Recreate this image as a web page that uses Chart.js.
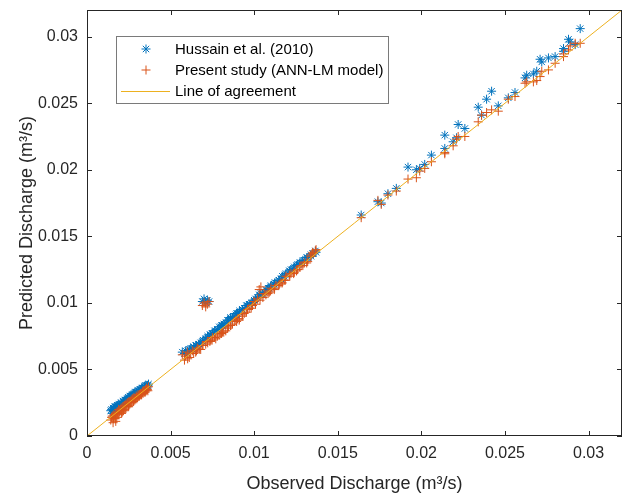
<!DOCTYPE html>
<html>
<head>
<meta charset="utf-8">
<script src="https://cdn.jsdelivr.net/npm/chart.js"></script>
<style>
  html, body { margin: 0; padding: 0; background: #fff; }
</style>
</head>
<body>
<canvas id="chart" width="623" height="495"></canvas>
<script>
// observed discharge (m3/s), same for both models
var observed = [
  0.00142,0.00151,0.00156,0.00161,0.00169,0.00173,0.00181,0.00187,0.00190,0.00198,
  0.00204,0.00211,0.00215,0.00223,0.00229,0.00233,0.00241,0.00247,0.00251,0.00259,
  0.00264,0.00271,0.00277,0.00281,0.00289,0.00294,0.00301,0.00305,0.00313,0.00319,
  0.00324,0.00331,0.00337,0.00345,0.00351,0.00356,0.00364,
  0.00147,0.00158,0.00166,0.00178,0.00184,0.00195,0.00207,0.00218,0.00226,0.00238,
  0.00249,0.00256,0.00268,0.00279,0.00286,0.00298,0.00309,0.00316,0.00327,0.00335,
  0.00348,0.00354,0.00361,0.00368,0.00172,
  0.0069,0.0070,0.0071,0.0072,0.0073,
  0.0057,0.0059,0.0060,0.0062,0.0063,0.0065,0.0066,0.0068,0.0069,0.0071,
  0.0072,0.0074,0.0075,0.0077,0.0078,0.0080,0.0081,0.0083,0.0084,0.0086,
  0.0087,0.0089,0.0090,0.0091,0.0093,0.0094,0.0096,0.0097,0.0099,0.0100,
  0.0102,0.0103,0.0104,0.0106,0.0107,0.0109,0.0110,0.0112,0.0113,0.0115,
  0.0116,0.0118,0.0119,0.0121,0.0122,0.0124,0.0126,0.0128,0.0130,0.0132,
  0.0134,0.0135,0.0137,
  0.00583,0.00612,0.00638,0.00671,0.00694,0.00722,0.00748,0.00763,0.00791,0.00818,
  0.00846,0.00858,0.00881,0.00912,0.00928,0.00953,0.00982,0.01008,0.01035,0.01052,
  0.01083,0.01098,0.01122,0.01147,0.01168,0.01186,0.01213,0.01236,0.01253,0.01272,
  0.01291,0.01314,0.01338,0.01352,0.01366,0.00602,0.00655,0.00735,0.00805,0.00895,
  0.0164,0.0174,0.0176,0.0180,0.0185,0.0192,0.0197,0.0199,0.0202,0.0206,
  0.0214,0.0214,0.0219,0.0221,0.0222,0.0226,0.0234,0.0236,0.0239,0.0242,
  0.0246,0.0252,0.0256,0.0262,0.0263,0.0267,0.0269,0.0271,0.0272,0.0276,
  0.0280,0.0285,0.0285,0.0288,0.0289,0.0292,0.0295
];
// Hussain et al. (2010) predictions
var hussainPred = [
  0.0019,0.0017,0.0021,0.0019,0.0020,0.0021,0.0023,0.0021,0.0024,0.0022,
  0.0025,0.0024,0.0026,0.0025,0.0027,0.0026,0.0028,0.0029,0.0028,0.0030,
  0.0029,0.0031,0.0030,0.0032,0.0031,0.0033,0.0032,0.0034,0.0033,0.0035,
  0.0034,0.0036,0.0035,0.0037,0.0036,0.0037,0.0038,
  0.0020,0.0020,0.0022,0.0022,0.0023,0.0023,0.0024,0.0026,0.0027,0.0027,
  0.0029,0.0030,0.0030,0.0031,0.0033,0.0033,0.0034,0.0035,0.0036,0.0036,
  0.0038,0.0038,0.0038,0.0039,0.0022,
  0.0101,0.0103,0.0100,0.0102,0.0101,
  0.0063,0.0064,0.0062,0.0066,0.0065,0.0068,0.0067,0.0070,0.0071,0.0073,
  0.0074,0.0076,0.0077,0.0079,0.0080,0.0082,0.0083,0.0085,0.0087,0.0088,
  0.0089,0.0091,0.0092,0.0093,0.0095,0.0096,0.0098,0.0099,0.0100,0.0102,
  0.0104,0.0106,0.0107,0.0108,0.0110,0.0111,0.0113,0.0114,0.0115,0.0117,
  0.0118,0.0120,0.0122,0.0124,0.0125,0.0127,0.0129,0.0130,0.0132,0.0134,
  0.0135,0.0137,0.0138,
  0.0062,0.0065,0.0067,0.0069,0.0072,0.0075,0.0077,0.0079,0.0082,0.0084,
  0.0087,0.0089,0.0090,0.0094,0.0095,0.0098,0.0100,0.0103,0.0106,0.0107,
  0.0111,0.0112,0.0115,0.0117,0.0120,0.0121,0.0124,0.0126,0.0128,0.0130,
  0.0132,0.0134,0.0136,0.0137,0.0139,0.0064,0.0068,0.0076,0.0083,0.0092,
  0.0166,0.0176,0.0175,0.0182,0.0186,0.0202,0.0200,0.0201,0.0204,0.0211,
  0.0226,0.0216,0.0221,0.0224,0.0234,0.0231,0.0247,0.0241,0.0253,0.0259,
  0.0248,0.0254,0.0258,0.0269,0.0271,0.0272,0.0274,0.0283,0.0281,0.0284,
  0.0285,0.0291,0.0289,0.0298,0.0296,0.0294,0.0306
];
// present study (ANN-LM model) predictions
var annPred = [
  0.0012,0.0015,0.0010,0.0016,0.0013,0.0017,0.0018,0.0016,0.0020,0.0019,
  0.0021,0.0018,0.0022,0.0023,0.0021,0.0024,0.0025,0.0023,0.0026,0.0025,
  0.0027,0.0028,0.0026,0.0029,0.0028,0.0030,0.0029,0.0031,0.0030,0.0032,
  0.0031,0.0033,0.0034,0.0033,0.0035,0.0036,0.0034,
  0.0014,0.0013,0.0015,0.0014,0.0017,0.0018,0.0017,0.0019,0.0020,0.0022,
  0.0022,0.0024,0.0025,0.0026,0.0027,0.0028,0.0030,0.0031,0.0031,0.0032,
  0.0033,0.0034,0.0035,0.0037,0.0011,
  0.0098,0.0100,0.0097,0.0099,0.0101,
  0.0061,0.0060,0.0063,0.0062,0.0064,0.0063,0.0066,0.0065,0.0068,0.0069,
  0.0071,0.0072,0.0074,0.0073,0.0075,0.0077,0.0078,0.0079,0.0081,0.0083,
  0.0084,0.0087,0.0088,0.0087,0.0091,0.0092,0.0095,0.0096,0.0098,0.0101,
  0.0103,0.0110,0.0112,0.0107,0.0106,0.0108,0.0111,0.0110,0.0113,0.0114,
  0.0115,0.0117,0.0120,0.0121,0.0122,0.0123,0.0125,0.0128,0.0130,0.0131,
  0.0136,0.0138,0.0140,
  0.0057,0.0059,0.0062,0.0065,0.0068,0.0070,0.0072,0.0074,0.0076,0.0078,
  0.0082,0.0083,0.0086,0.0088,0.0090,0.0093,0.0096,0.0099,0.0102,0.0104,
  0.0107,0.0109,0.0111,0.0113,0.0115,0.0117,0.0120,0.0122,0.0124,0.0127,
  0.0128,0.0130,0.0135,0.0137,0.0139,0.0058,0.0064,0.0071,0.0077,0.0086,
  0.0164,0.0177,0.0174,0.0181,0.0184,0.0193,0.0194,0.0199,0.0201,0.0206,
  0.0213,0.0212,0.0218,0.0223,0.0225,0.0225,0.0236,0.0241,0.0243,0.0245,
  0.0244,0.0253,0.0255,0.0265,0.0266,0.0266,0.0267,0.0270,0.0274,0.0275,
  0.0280,0.0285,0.0287,0.0290,0.0293,0.0295,0.0295
];
var agreement = [0, 0.032];
var xTicks = [0, 0.005, 0.01, 0.015, 0.02, 0.025, 0.03];
var yTicks = [0, 0.005, 0.01, 0.015, 0.02, 0.025, 0.03];
var seriesNames = ['Hussain et al. (2010)', 'Present study (ANN-LM model)', 'Line of agreement'];

var BLUE = '#0072BD', ORANGE = '#D95319', YELLOW = '#EDB120', AXIS = '#262626';
var FONT = 'Liberation Sans, Arial, Helvetica, sans-serif';

function pairs(xs, ys) {
  return xs.map(function (x, i) { return { x: x, y: ys[i] }; });
}

function drawStar(ctx, x, y, r) {
  var d = r * Math.SQRT1_2;
  ctx.beginPath();
  ctx.moveTo(x - r, y); ctx.lineTo(x + r, y);
  ctx.moveTo(x, y - r); ctx.lineTo(x, y + r);
  ctx.moveTo(x - d, y - d); ctx.lineTo(x + d, y + d);
  ctx.moveTo(x - d, y + d); ctx.lineTo(x + d, y - d);
  ctx.stroke();
}
function drawPlus(ctx, x, y, r) {
  ctx.beginPath();
  ctx.moveTo(x - r, y); ctx.lineTo(x + r, y);
  ctx.moveTo(x, y - r); ctx.lineTo(x, y + r);
  ctx.stroke();
}

// box, inward ticks and the legend, MATLAB style
var framePlugin = {
  id: 'frame',
  afterDraw: function (chart) {
    var ctx = chart.ctx, a = chart.chartArea;
    var xs = chart.scales.x, ys = chart.scales.y;
    ctx.save();
    ctx.strokeStyle = AXIS;
    ctx.lineWidth = 1;
    ctx.beginPath();
    xTicks.forEach(function (v) {
      var px = Math.round(xs.getPixelForValue(v)) + 0.5;
      ctx.moveTo(px, a.bottom); ctx.lineTo(px, a.bottom - 5);
      ctx.moveTo(px, a.top); ctx.lineTo(px, a.top + 5);
    });
    yTicks.forEach(function (v) {
      var py = Math.round(ys.getPixelForValue(v)) + 0.5;
      ctx.moveTo(a.left, py); ctx.lineTo(a.left + 5, py);
      ctx.moveTo(a.right, py); ctx.lineTo(a.right - 5, py);
    });
    ctx.stroke();
    ctx.strokeRect(a.left + 0.5, a.top + 0.5, a.right - a.left - 1, a.bottom - a.top - 1);

    // legend
    var lx = 116, ly = 36, lw = 272, lh = 67;
    ctx.fillStyle = '#fff';
    ctx.fillRect(lx, ly, lw, lh);
    ctx.strokeStyle = '#7a7a7a';
    ctx.strokeRect(lx + 0.5, ly + 0.5, lw, lh);
    var rows = [49, 70, 91];
    ctx.lineWidth = 1;
    ctx.strokeStyle = BLUE;
    drawStar(ctx, 146, rows[0], 4.5);
    ctx.strokeStyle = ORANGE;
    drawPlus(ctx, 146, rows[1], 4.5);
    ctx.strokeStyle = YELLOW;
    ctx.beginPath();
    ctx.moveTo(121, rows[2] + 0.5); ctx.lineTo(170, rows[2] + 0.5);
    ctx.stroke();
    ctx.fillStyle = '#000';
    ctx.font = '15px ' + FONT;
    ctx.textBaseline = 'middle';
    ctx.textAlign = 'left';
    seriesNames.forEach(function (s, i) { ctx.fillText(s, 175, rows[i] + 1); });
    ctx.restore();
  }
};

new Chart(document.getElementById('chart').getContext('2d'), {
  type: 'scatter',
  data: {
    datasets: [{
      label: seriesNames[0],
      data: pairs(observed, hussainPred),
      pointStyle: 'star',
      radius: 4.5,
      borderColor: BLUE,
      backgroundColor: BLUE,
      borderWidth: 1,
      order: 3
    }, {
      label: seriesNames[1],
      data: pairs(observed, annPred),
      pointStyle: 'cross',
      radius: 4.5,
      borderColor: ORANGE,
      backgroundColor: ORANGE,
      borderWidth: 1,
      order: 2
    }, {
      type: 'line',
      label: seriesNames[2],
      data: pairs(agreement, agreement),
      borderColor: YELLOW,
      borderWidth: 1,
      pointRadius: 0,
      fill: false,
      order: 1
    }]
  },
  options: {
    responsive: false,
    animation: false,
    devicePixelRatio: 1,
    events: [],
    layout: { autoPadding: false, padding: { top: 10, right: 1, left: 0, bottom: 0 } },
    plugins: { legend: { display: false }, tooltip: { enabled: false } },
    scales: {
      x: {
        type: 'linear',
        min: 0, max: 0.032,
        grid: { display: false, drawTicks: false },
        border: { display: false },
        afterBuildTicks: function (s) { s.ticks = xTicks.map(function (v) { return { value: v }; }); },
        afterFit: function (s) { s.height = 59; s.paddingLeft = 0; s.paddingRight = 0; },
        ticks: {
          padding: 8,
          color: AXIS,
          font: { family: FONT, size: 16 },
          maxRotation: 0,
          callback: function (v) { return String(v); }
        },
        title: {
          display: true,
          text: 'Observed Discharge (m³/s)',
          color: AXIS,
          font: { family: FONT, size: 18 },
          padding: { top: 1, bottom: 0 }
        }
      },
      y: {
        type: 'linear',
        min: 0, max: 0.032,
        grid: { display: false, drawTicks: false },
        border: { display: false },
        afterBuildTicks: function (s) { s.ticks = yTicks.map(function (v) { return { value: v }; }); },
        afterFit: function (s) { s.width = 87; s.paddingTop = 0; s.paddingBottom = 0; },
        ticks: {
          padding: 9,
          color: AXIS,
          font: { family: FONT, size: 16 },
          callback: function (v) { return String(v); }
        },
        title: {
          display: true,
          text: 'Predicted Discharge (m³/s)',
          color: AXIS,
          font: { family: FONT, size: 18 },
          padding: { top: 16, bottom: 0 }
        }
      }
    }
  },
  plugins: [framePlugin]
});
</script>
</body>
</html>
